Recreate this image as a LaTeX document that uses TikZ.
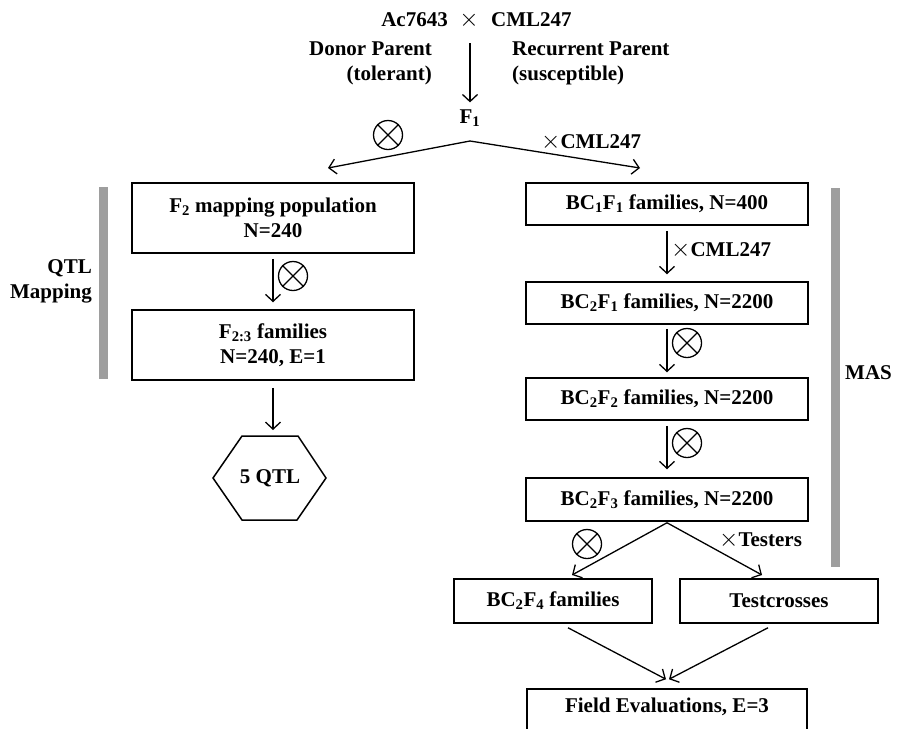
\documentclass[tikz,border=0pt]{standalone}
\usepackage{fontspec}
\setmainfont{Liberation Serif}
\usetikzlibrary{arrows.meta}
\definecolor{barcol}{gray}{0.62}
\begin{document}
\begin{tikzpicture}[x=1pt,y=-1pt,
  font=\fontsize{21}{25}\selectfont\bfseries,
  every node/.style={inner sep=0pt},
  box/.style={draw,line width=1.5pt,minimum width=282pt,align=center},
  smallbox/.style={draw,line width=1.5pt,minimum width=198pt,minimum height=44pt,align=center},
  flow/.style={line width=1.3pt,-{Straight Barb[length=7pt,width=15pt,line width=1.3pt]}},
  selfing/.style={draw,circle,line width=1.3pt,minimum size=29pt},
  bar/.style={fill=barcol,draw=none},
  crossmark/.style={font=\fontsize{28}{28}\selectfont},
  lbl/.style={anchor=west}
]
\clip (0,0) rectangle (898,729);
\fill[white] (0,0) rectangle (898,729);

% parents and F1
\node[crossmark] (x0) at (469,20) {$\times$};
\node[anchor=east] (donor) at (448,20) {Ac7643};
\node[anchor=west] (recur) at (491,20) {CML247};
\node[anchor=east,align=right] (dp) at (432,63) {Donor Parent\\(tolerant)};
\node[anchor=west,align=left] (rp) at (512,63) {Recurrent Parent\\(susceptible)};
\node (f1) at (470,118) {F\textsubscript{1}};
\coordinate (ftop) at (470,43);
\draw[flow] (ftop) -- ([yshift=7pt]f1.north);

% split below F1
\coordinate (split) at (470,141);
\coordinate (lt) at (328,168);
\coordinate (rt) at (640,168);
\draw[flow] (split) -- (lt);
\draw[flow] (split) -- (rt);
\node[selfing] (s0) at (388,135) {};
\node[lbl] (c0) at (541,142) {{\fontsize{28}{28}\selectfont$\times$}CML247};

% QTL mapping branch
\node[box,minimum height=70pt] (f2) at (273,218) {F\textsubscript{2} mapping population\\N=240};
\node[box,minimum height=70pt] (f23) at (273,345) {F\textsubscript{2:3} families\\N=240, E=1};
\draw[flow] ([yshift=-5pt]f2.south) -- ([yshift=7pt]f23.north);
\node[selfing] (s1) at (293,276) {};
\coordinate (hexin) at (273,430);
\draw[line width=1.5pt] (242,436) -- (298,436) -- (326,478) -- (297,520) -- (242,520) -- (213,478) -- cycle;
\node (qtl) at (270,478) {5 QTL};
\draw[flow] ([yshift=-7pt]f23.south) -- (hexin);
\fill[bar] (99,187) rectangle (108,379);
\node[anchor=east,align=right] (qm) at (92,281) {QTL\\Mapping};

% backcross / MAS branch
\node[box,minimum height=42pt] (bc1) at (667,204) {BC\textsubscript{1}F\textsubscript{1} families, N=400};
\node[box,minimum height=42pt] (bc2f1) at (667,303) {BC\textsubscript{2}F\textsubscript{1} families, N=2200};
\node[box,minimum height=42pt] (bc2f2) at (667,399) {BC\textsubscript{2}F\textsubscript{2} families, N=2200};
\node[box,minimum height=43pt] (bc2f3) at (667,499.5) {BC\textsubscript{2}F\textsubscript{3} families, N=2200};
\draw[flow] ([yshift=-5pt]bc1.south) -- ([yshift=7pt]bc2f1.north);
\node[lbl] (c1) at (671,250) {{\fontsize{28}{28}\selectfont$\times$}CML247};
\draw[flow] ([yshift=-4pt]bc2f1.south) -- ([yshift=5pt]bc2f2.north);
\node[selfing] (s2) at (687,343) {};
\draw[flow] ([yshift=-5pt]bc2f2.south) -- ([yshift=8pt]bc2f3.north);
\node[selfing] (s3) at (687,443) {};
\fill[bar] (831,188) rectangle (840,567);
\node[anchor=west] (mas) at (845,373) {MAS};

% final split and evaluation
\coordinate (lt2) at (572,575);
\coordinate (rt2) at (762,575);
\draw[flow] ([yshift=-1pt]bc2f3.south) -- (lt2);
\draw[flow] ([yshift=-1pt]bc2f3.south) -- (rt2);
\node[selfing] (s4) at (587,544) {};
\node[lbl] (c2) at (719,540) {{\fontsize{28}{28}\selectfont$\times$}Testers};
\node[smallbox] (bc2f4) at (553,601) {BC\textsubscript{2}F\textsubscript{4} families};
\node[smallbox] (test) at (779,601) {Testcrosses};
\node[draw,line width=1.5pt,minimum width=280pt,minimum height=60pt] (field) at (667,719) {};
\node (fieldtxt) at (667,707) {Field Evaluations, E=3};
\draw[flow] ([xshift=15pt,yshift=-4pt]bc2f4.south) -- ([xshift=-1pt,yshift=9pt]field.north);
\draw[flow] ([xshift=-11pt,yshift=-4pt]test.south) -- ([xshift=2pt,yshift=9pt]field.north);

% crosses inside the selfing symbols
\foreach \s in {s0,s1,s2,s3,s4}
  \draw[line width=1.3pt] (\s.north west) -- (\s.south east) (\s.north east) -- (\s.south west);
\end{tikzpicture}
\end{document}
